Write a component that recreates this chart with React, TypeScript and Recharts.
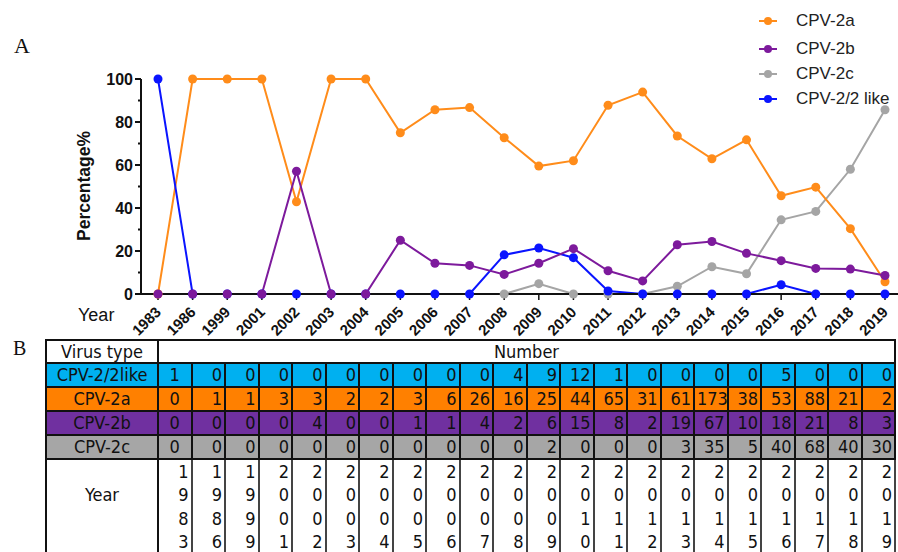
import { LineChart, Line, XAxis, YAxis, Legend } from "recharts";

const years = [
  "1983", "1986", "1999", "2001", "2002", "2003", "2004", "2005", "2006", "2007", "2008",
  "2009", "2010", "2011", "2012", "2013", "2014", "2015", "2016", "2017", "2018", "2019",
];

// percentages
const pct2a = [0, 100, 100, 100, 42.9, 100, 100, 75, 85.7, 86.7, 72.7, 59.5, 62, 87.8, 93.9, 73.5, 62.9, 71.7, 45.7, 49.7, 30.4, 5.7];
const pct2b = [0, 0, 0, 0, 57.1, 0, 0, 25, 14.3, 13.3, 9.1, 14.3, 21.1, 10.8, 6.1, 22.9, 24.4, 18.9, 15.5, 11.9, 11.6, 8.6];
const pct2c = [null, null, null, null, null, null, null, null, null, null, 0, 4.8, 0, 0, 0, 3.6, 12.7, 9.4, 34.5, 38.4, 58, 85.7];
const pct2like = [100, 0, 0, 0, 0, 0, 0, 0, 0, 0, 18.2, 21.4, 16.9, 1.4, 0, 0, 0, 0, 4.3, 0, 0, 0];

// sample counts from panel B
const num2like = [1, 0, 0, 0, 0, 0, 0, 0, 0, 0, 4, 9, 12, 1, 0, 0, 0, 0, 5, 0, 0, 0];
const num2a = [0, 1, 1, 3, 3, 2, 2, 3, 6, 26, 16, 25, 44, 65, 31, 61, 173, 38, 53, 88, 21, 2];
const num2b = [0, 0, 0, 0, 4, 0, 0, 1, 1, 4, 2, 6, 15, 8, 2, 19, 67, 10, 18, 21, 8, 3];
const num2c = [0, 0, 0, 0, 0, 0, 0, 0, 0, 0, 0, 2, 0, 0, 0, 3, 35, 5, 40, 68, 40, 30];

const yTicks = [0, 10, 20, 30, 40, 50, 60, 70, 80, 90, 100];

const ORANGE = "#FF8C1A";
const PURPLE = "#7D1A9C";
const GRAY = "#A5A5A5";
const BLUE = "#0A14FF";

const legendItems = [
  { name: "CPV-2a", color: ORANGE },
  { name: "CPV-2b", color: PURPLE },
  { name: "CPV-2c", color: GRAY },
  { name: "CPV-2/2 like", color: BLUE },
];

const tableRows = [
  { name: "CPV-2/2like", bg: "#00B0F0", counts: num2like },
  { name: "CPV-2a", bg: "#FF8000", counts: num2a },
  { name: "CPV-2b", bg: "#7030A0", counts: num2b },
  { name: "CPV-2c", bg: "#A6A6A6", counts: num2c },
];

const data = years.map((year, i) => ({
  year,
  a: pct2a[i],
  b: pct2b[i],
  c: pct2c[i],
  like: pct2like[i],
}));

const chartFont = '"Liberation Sans", Arial, sans-serif';
const tableFont = '"DejaVu Sans Condensed", "DejaVu Sans", sans-serif';

function YTick({ x, y, payload }: any) {
  const major = payload.value % 20 === 0;
  return (
    <g>
      <line x1={x} x2={x - (major ? 6 : 3)} y1={y} y2={y} stroke="#111" strokeWidth={2} />
      {major && (
        <text x={x - 8} y={y} dy="0.36em" textAnchor="end" fontSize={16} fontWeight="bold" fill="#111" fontFamily={chartFont}>
          {payload.value}
        </text>
      )}
    </g>
  );
}

function XTick({ x, y, payload }: any) {
  return (
    <text
      transform={`translate(${x + 4}, ${y + 11}) rotate(-45)`}
      textAnchor="end"
      fontSize={15}
      fontWeight="bold"
      fill="#111"
      fontFamily={chartFont}
    >
      {payload.value}
    </text>
  );
}

function LegendBox() {
  return (
    <div style={{ fontFamily: chartFont, fontSize: 17, color: "#222" }}>
      {legendItems.map((it, i) => (
        <div key={it.name} style={{ display: "flex", alignItems: "center", height: 25, marginBottom: i === 0 ? 3 : 0 }}>
          <svg width={20} height={12} style={{ marginRight: 18 }}>
            <line x1={1} x2={19} y1={6} y2={6} stroke={it.color} strokeWidth={2} />
            <circle cx={10} cy={6} r={4} fill={it.color} />
          </svg>
          <span>{it.name}</span>
        </div>
      ))}
    </div>
  );
}

function PercentChart() {
  const dot = (color: string) => ({ r: 4.5, fill: color, stroke: color, strokeWidth: 0 });
  return (
    <LineChart width={898} height={340} data={data} margin={{ top: 79, right: 0, bottom: 6, left: 0 }}>
      <XAxis
        dataKey="year"
        interval={0}
        height={40}
        padding={{ left: 17, right: 13 }}
        axisLine={{ stroke: "#111", strokeWidth: 2 }}
        tickLine={{ stroke: "#111", strokeWidth: 1.5 }}
        tickSize={6}
        tick={<XTick />}
        label={() => (
          <text x={78} y={321} fontSize={18} fill="#111" fontFamily={chartFont}>
            Year
          </text>
        )}
      />
      <YAxis
        width={141}
        domain={[0, 100]}
        ticks={yTicks}
        interval={0}
        axisLine={{ stroke: "#111", strokeWidth: 2 }}
        tickLine={false}
        tickSize={0}
        tickMargin={0}
        tick={<YTick />}
        label={() => (
          <text
            transform="translate(90, 186) rotate(-90)"
            textAnchor="middle"
            fontSize={17.5}
            fontWeight="bold"
            fill="#111"
            fontFamily={chartFont}
          >
            Percentage%
          </text>
        )}
      />
      <Legend
        layout="horizontal"
        verticalAlign="middle"
        content={() => <LegendBox />}
        wrapperStyle={{ position: "absolute", left: 758, top: 8, width: 140, height: 110 }}
      />
      <Line dataKey="c" name="CPV-2c" stroke={GRAY} strokeWidth={2} dot={dot(GRAY)} activeDot={false} isAnimationActive={false} />
      <Line dataKey="a" name="CPV-2a" stroke={ORANGE} strokeWidth={2} dot={dot(ORANGE)} activeDot={false} isAnimationActive={false} />
      <Line dataKey="like" name="CPV-2/2 like" stroke={BLUE} strokeWidth={2} dot={dot(BLUE)} activeDot={false} isAnimationActive={false} />
      <Line dataKey="b" name="CPV-2b" stroke={PURPLE} strokeWidth={2} dot={dot(PURPLE)} activeDot={false} isAnimationActive={false} />
    </LineChart>
  );
}

function CountTable() {
  const cell: React.CSSProperties = {
    border: "2px solid #111",
    padding: "0 2px",
    lineHeight: "20px",
    whiteSpace: "nowrap",
    overflow: "hidden",
  };
  return (
    <table
      style={{
        position: "absolute",
        left: 45,
        top: 339,
        width: 851,
        borderCollapse: "collapse",
        tableLayout: "fixed",
        fontFamily: tableFont,
        fontStretch: "condensed",
        fontSize: 18,
        color: "#111",
      }}
    >
      <colgroup>
        <col style={{ width: 112 }} />
        {years.map((y) => (
          <col key={y} />
        ))}
      </colgroup>
      <tbody>
        <tr style={{ height: 23 }}>
          <td style={{ ...cell, textAlign: "center" }}>Virus type</td>
          <td colSpan={years.length} style={{ ...cell, textAlign: "center" }}>
            Number
          </td>
        </tr>
        {tableRows.map((r) => (
          <tr key={r.name} style={{ height: 24, background: r.bg }}>
            <td style={{ ...cell, textAlign: "center", padding: 0 }}>{r.name}</td>
            {r.counts.map((c, i) => (
              <td key={i} style={{ ...cell, textAlign: i === 0 ? "center" : "right" }}>
                {c}
              </td>
            ))}
          </tr>
        ))}
        <tr>
          <td style={{ ...cell, textAlign: "center", verticalAlign: "top", paddingTop: 25, height: 96 }}>Year</td>
          {years.map((y) => (
            <td key={y} style={{ ...cell, textAlign: "right", verticalAlign: "top", paddingTop: 0, borderColor: "#444" }}>
              {y.split("").map((d, k) => (
                <div key={k} style={{ lineHeight: "23.3px" }}>
                  {d}
                </div>
              ))}
            </td>
          ))}
        </tr>
      </tbody>
    </table>
  );
}

export default function App() {
  return (
    <div style={{ position: "absolute", left: 0, top: 0, width: 898, height: 552, overflow: "hidden", background: "#fff" }}>
      <div style={{ position: "absolute", left: 14, top: 33, fontFamily: '"Liberation Serif", serif', fontSize: 22, color: "#111" }}>A</div>
      <div style={{ position: "absolute", left: 13, top: 337, fontFamily: '"Liberation Serif", serif', fontSize: 20, color: "#111" }}>B</div>
      <div style={{ position: "absolute", left: 0, top: 0 }}>
        <PercentChart />
      </div>
      <CountTable />
    </div>
  );
}
